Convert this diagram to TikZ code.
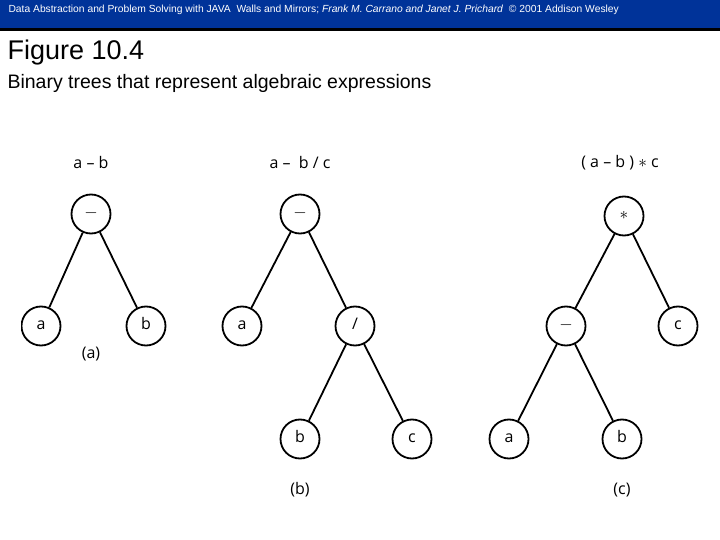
\documentclass[tikz,border=0pt]{standalone}
\usepackage{fontspec}
\setmainfont{Liberation Sans}
\newfontfamily\treefont{Open Sans}
\definecolor{hdr}{RGB}{0,51,153}
\begin{document}
\begin{tikzpicture}[x=1pt,y=-1pt,
  nd/.style={circle,draw,line width=1.8pt,minimum size=39pt,inner sep=0pt,text height=8.5pt,text depth=2pt,font=\treefont\fontsize{16}{16}\selectfont},
  lbl/.style={font=\treefont\fontsize{16}{16}\selectfont},
  edge/.style={line width=1.8pt}]
\useasboundingbox (0,0) rectangle (720,540);
\fill[hdr] (0,0) rectangle (720,28);
\fill[black] (0,28) rectangle (720,31);
\node[anchor=west,text=white,font=\fontsize{10.3}{10.3}\selectfont] (hd) at (5,10) {Data Abstraction and Problem Solving with JAVA\ \ Walls and Mirrors;\ \textit{Frank M. Carrano and Janet J. Prichard}\ \ © 2001 Addison Wesley};
\node[anchor=west,font=\fontsize{27}{27}\selectfont] (ti) at (4,53) {Figure 10.4};
\node[anchor=west,font=\fontsize{19.5}{19.5}\selectfont] (st) at (4,83) {Binary trees that represent algebraic expressions};
% tree a
\node[lbl] (la) at (91,163) {a – b};
\node[nd] (a0) at (91,214) {$-$};
\begin{scope}
\clip (21,0) rectangle (720,540);
\node[nd] (a1) at (41,326) {a};
\end{scope}
\node[nd] (a2) at (146,326) {b};
\node[lbl] (ca) at (91,354) {(a)};
\draw[edge] (a0) -- (a1); \draw[edge] (a0) -- (a2);
% tree b
\node[lbl] (lb) at (300,163) {a –\ \ b / c};
\node[nd] (b0) at (300,214) {$-$};
\node[nd] (b1) at (242,326) {a};
\node[nd] (b2) at (355,326) {/};
\node[nd] (b3) at (300,439) {b};
\node[nd] (b4) at (412,439) {c};
\node[lbl] (cb) at (300,490) {(b)};
\draw[edge] (b0) -- (b1); \draw[edge] (b0) -- (b2);
\draw[edge] (b2) -- (b3); \draw[edge] (b2) -- (b4);
% tree c
\node[lbl] (lc) at (620,163) {( a – b ) $\ast$ c};
\node[nd] (c0) at (624,216) {$\ast$};
\node[nd] (c1) at (566,326) {$-$};
\node[nd] (c2) at (678,326) {c};
\node[nd] (c3) at (509,439) {a};
\node[nd] (c4) at (622,439) {b};
\node[lbl] (cc) at (622,490) {(c)};
\draw[edge] (c0) -- (c1); \draw[edge] (c0) -- (c2);
\draw[edge] (c1) -- (c3); \draw[edge] (c1) -- (c4);
\end{tikzpicture}
\end{document}
